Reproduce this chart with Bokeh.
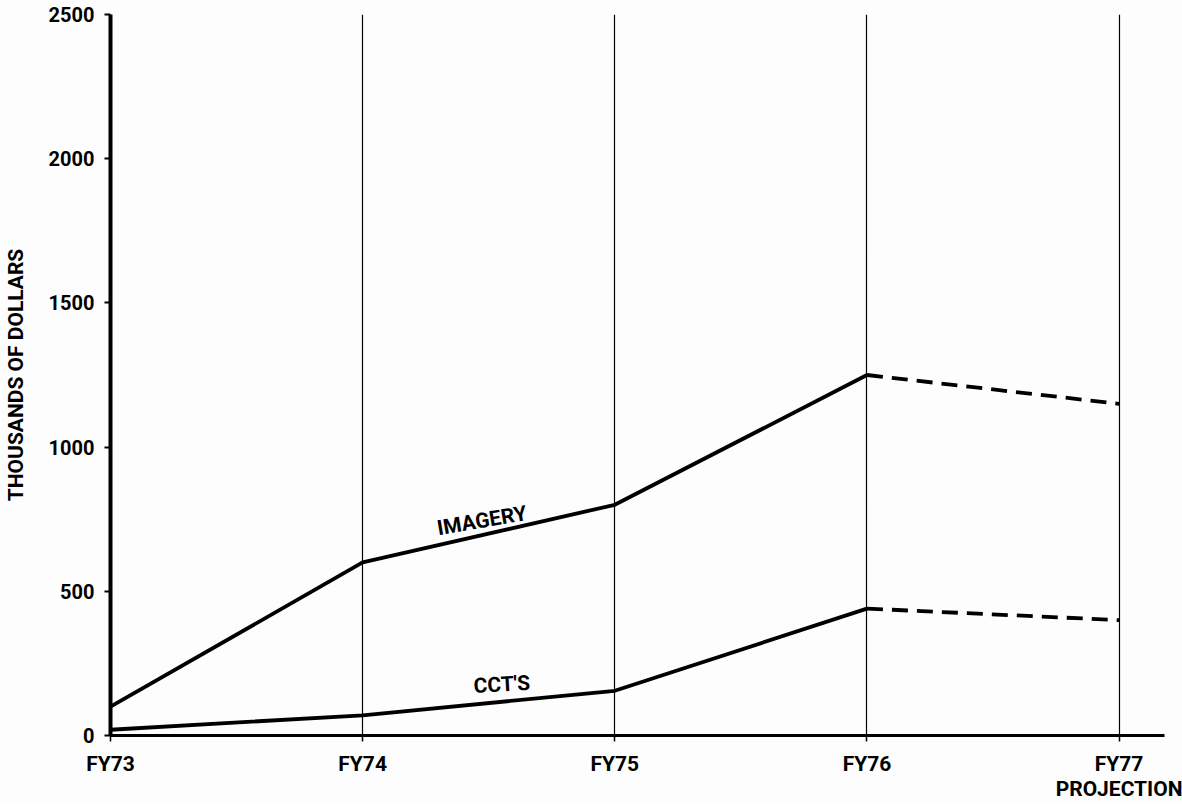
from bokeh.plotting import figure
from bokeh.models import FixedTicker, Range1d
from bokeh.core.properties import value
from bokeh.embed import file_html
from bokeh.resources import INLINE

# ---- data ----
years = ["FY73", "FY74", "FY75", "FY76", "FY77\nPROJECTION"]
x_pos = [0, 1, 2, 3, 4]
imagery = [100, 600, 800, 1250, 1150]
ccts = [20, 70, 155, 440, 400]
y_ticks = [0, 500, 1000, 1500, 2000, 2500]
series_labels = ["IMAGERY", "CCT'S"]

FONT = "Roboto, 'Liberation Sans', sans-serif"
BG = "#fdfdfd"

p = figure(frame_width=1054, frame_height=721,
           output_backend="svg", toolbar_location=None,
           x_range=Range1d(0, 4.18), y_range=Range1d(0, 2500),
           min_border_left=105, min_border_top=14, min_border_right=20,
           min_border_bottom=62,
           background_fill_color=BG, border_fill_color=BG,
           outline_line_color=None)

# vertical grid lines
p.xgrid.ticker = FixedTicker(ticks=x_pos[1:])
p.xgrid.grid_line_color = "black"
p.xgrid.grid_line_width = 1.2
p.ygrid.grid_line_color = None

# x axis
p.xaxis.ticker = FixedTicker(ticks=x_pos)
p.xaxis.major_label_overrides = {x: lab for x, lab in zip(x_pos, years)}
p.xaxis.axis_line_width = 3
p.xaxis.axis_line_color = "black"
p.xaxis.major_tick_in = 0
p.xaxis.major_tick_out = 6
p.xaxis.major_tick_line_width = 1.5
p.xaxis.minor_tick_line_color = None
p.xaxis.major_label_standoff = 10
p.xaxis.major_label_text_font = FONT
p.xaxis.major_label_text_font_size = "21px"
p.xaxis.major_label_text_font_style = "bold"
p.xaxis.major_label_text_color = "black"
p.xaxis.major_label_text_line_height = 1.05

# y axis
p.yaxis.ticker = FixedTicker(ticks=y_ticks)
p.yaxis.axis_line_width = 4
p.yaxis.axis_line_color = "black"
p.yaxis.major_tick_in = 0
p.yaxis.major_tick_out = 6
p.yaxis.major_tick_line_width = 2
p.yaxis.minor_tick_line_color = None
p.yaxis.major_label_standoff = 10
p.yaxis.major_label_text_font = FONT
p.yaxis.major_label_text_font_size = "20px"
p.yaxis.major_label_text_font_style = "bold"
p.yaxis.major_label_text_color = "black"
p.yaxis.axis_label = "THOUSANDS OF DOLLARS"
p.yaxis.axis_label_text_font = FONT
p.yaxis.axis_label_text_font_size = "21px"
p.yaxis.axis_label_text_font_style = "bold"
p.yaxis.axis_label_text_color = "black"
p.yaxis.axis_label_standoff = 18

# lines: actual (solid) and projection (dashed)
for ys in (imagery, ccts):
    p.line(x_pos[:4], ys[:4], line_color="black", line_width=3.8)
    p.line(x_pos[3:], ys[3:], line_color="black", line_width=3.8,
           line_dash="16 9")

# series labels
p.text(x=[1.473], y=[745], text=[series_labels[0]], angle=0.17,
       text_align="center", text_baseline="middle",
       text_font=value(FONT), text_font_size="21px",
       text_font_style="bold", text_color="black")
p.text(x=[1.552], y=[177], text=[series_labels[1]], angle=0.055,
       text_align="center", text_baseline="middle",
       text_font=value(FONT), text_font_size="21px",
       text_font_style="bold", text_color="black")

open("out.html", "w").write(file_html(p, INLINE))
